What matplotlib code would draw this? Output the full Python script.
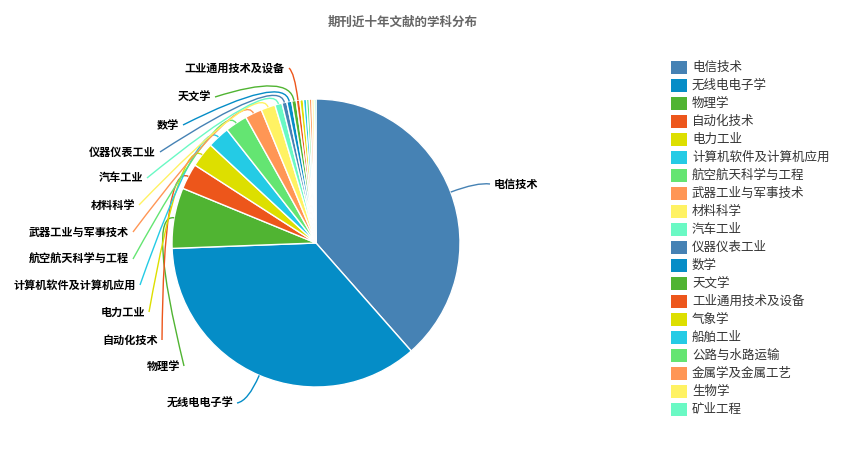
import numpy as np
import matplotlib
matplotlib.use("Agg")
import matplotlib.pyplot as plt
from matplotlib.path import Path
from matplotlib.patches import PathPatch, Rectangle

plt.rcParams['font.family'] = ['Noto Sans CJK SC', 'DejaVu Sans']

"""
Data
"""

subjects = ['电信技术', '无线电电子学', '物理学', '自动化技术', '电力工业',
            '计算机软件及计算机应用', '航空航天科学与工程', '武器工业与军事技术',
            '材料科学', '汽车工业', '仪器仪表工业', '数学', '天文学',
            '工业通用技术及设备', '气象学', '船舶工业', '公路与水路运输',
            '金属学及金属工艺', '生物学', '矿业工程']
counts = [385, 359, 68, 29, 28, 25, 25, 19, 16, 8, 5.5, 5.5,
          5, 4, 4, 3.5, 3, 3, 2.5, 2]
palette = ['#4682B4', '#058DC7', '#50B432', '#ED561B', '#DDDF00',
           '#24CBE5', '#64E572', '#FF9655', '#FFF263', '#6AF9C4']

# label anchor (pixel coords of line end) for slices that show a label
label_pos = {
    '电信技术': (490, 184, 'left'),
    '无线电电子学': (237, 403, 'right'),
    '物理学': (184, 366, 'right'),
    '自动化技术': (162, 340, 'right'),
    '电力工业': (149, 312, 'right'),
    '计算机软件及计算机应用': (140, 285, 'right'),
    '航空航天科学与工程': (133, 259, 'right'),
    '武器工业与军事技术': (133, 232, 'right'),
    '材料科学': (139, 205, 'right'),
    '汽车工业': (147, 178, 'right'),
    '仪器仪表工业': (160, 152, 'right'),
    '数学': (183, 125, 'right'),
    '天文学': (215, 97, 'right'),
    '工业通用技术及设备': (289, 68, 'right'),
}

W, H = 844, 455
CX, CY, R = 316, 243, 144

fig = plt.figure(figsize=(W / 100, H / 100), dpi=100)
ax = fig.add_axes([0, 0, 1, 1])

colors = [palette[i % len(palette)] for i in range(len(subjects))]
wedges, _ = ax.pie(counts, colors=colors, startangle=90, counterclock=False,
                   center=(CX, H - CY), radius=R,
                   wedgeprops=dict(edgecolor='white', linewidth=1))

ax.set_xlim(0, W)
ax.set_ylim(0, H)
ax.set_aspect('auto')
ax.axis('off')

# leader lines + labels
for w, name, col in zip(wedges, subjects, colors):
    if name not in label_pos:
        continue
    mid = np.deg2rad((w.theta1 + w.theta2) / 2)
    p0 = (CX + R * np.cos(mid), H - CY + R * np.sin(mid))
    p1 = (CX + (R + 28) * np.cos(mid), H - CY + (R + 28) * np.sin(mid))
    lx, ly, ha = label_pos[name]
    p2 = (lx, H - ly)
    path = Path([p0, p1, p2], [Path.MOVETO, Path.CURVE3, Path.CURVE3])
    ax.add_patch(PathPatch(path, facecolor='none', edgecolor=col, lw=1))
    tx = lx + 4 if ha == 'left' else lx - 4
    ax.text(tx, H - ly, name, ha=ha, va='center', fontsize=8,
            fontweight='bold', color='#000000')

# title
ax.text(403, H - 22, '期刊近十年文献的学科分布', ha='center', va='center',
        fontsize=9, fontweight='bold', color='#666666')

# legend
for i, (name, col) in enumerate(zip(subjects, colors)):
    y = 67 + i * 18
    ax.add_patch(Rectangle((671, H - y - 6.5), 16, 13, facecolor=col,
                           edgecolor='none'))
    ax.text(692, H - y, name, ha='left', va='center', fontsize=9,
            color='#333333')

fig.savefig('out.png', dpi=100)
